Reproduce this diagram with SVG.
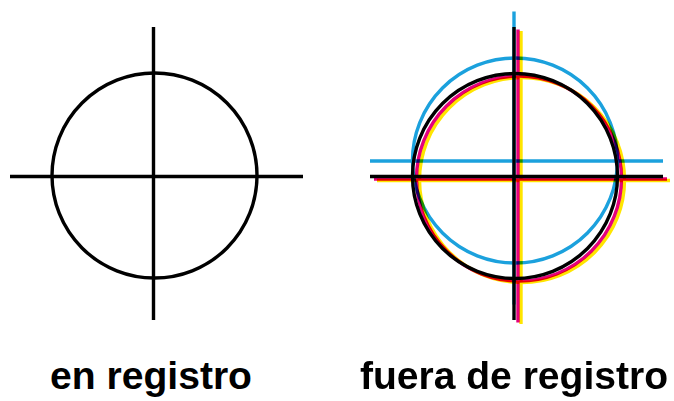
<svg xmlns="http://www.w3.org/2000/svg" width="674" height="401" viewBox="0 0 674 401">
<style>
  .s { fill: none; stroke-width: 3.4; }
  .k { stroke: #000000; }
  .c { stroke: #1ba1dd; }
  .m { stroke: #e5007d; }
  .y { stroke: #ffe500; }
  .mb { mix-blend-mode: multiply; }
  .lbl { font-family: "Liberation Sans", Arial, sans-serif; font-weight: bold; font-size: 39px; fill: #000; }
</style>
<defs>
  <g id="mark">
    <circle cx="515" cy="176" r="102.5"/>
    <line x1="514" y1="27" x2="514" y2="320"/>
    <line x1="370" y1="176.5" x2="663" y2="176.5"/>
  </g>
</defs>
<rect width="674" height="401" fill="#ffffff"/>
<g id="en-registro">
  <g class="s k">
    <circle cx="154.5" cy="175.5" r="102.5"/>
    <line x1="153.5" y1="27" x2="153.5" y2="320"/>
    <line x1="10" y1="176.5" x2="303" y2="176.5"/>
  </g>
  <text class="lbl" x="50" y="389" textLength="202" lengthAdjust="spacingAndGlyphs">en registro</text>
</g>
<g id="fuera-de-registro" style="isolation:isolate">
  <g class="s y mb" transform="translate(7,4)"><use href="#mark"/></g>
  <g class="s m mb" transform="translate(4,2.5)"><use href="#mark"/></g>
  <g class="s c mb" transform="translate(0,-15.5)"><use href="#mark"/></g>
  <g class="s k mb"><use href="#mark"/></g>
  <text class="lbl" x="360" y="389" textLength="308" lengthAdjust="spacingAndGlyphs">fuera de registro</text>
</g>
</svg>
